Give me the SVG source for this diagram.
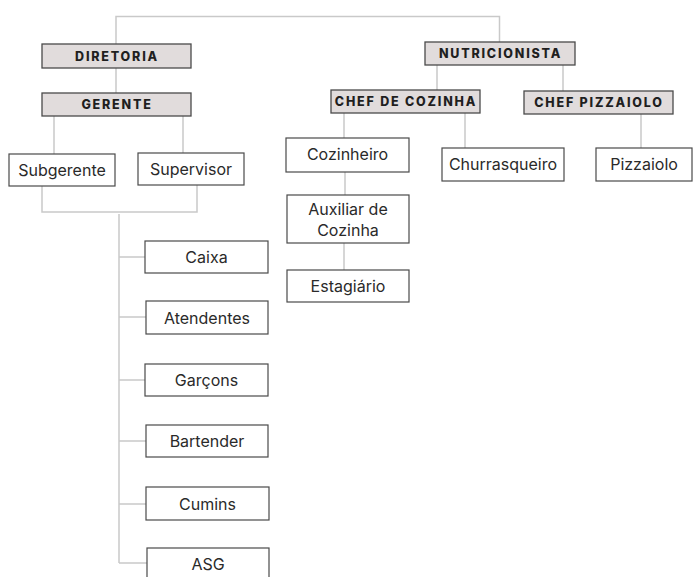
<svg xmlns="http://www.w3.org/2000/svg" width="693" height="577" viewBox="0 0 693 577">
<style>
.hd rect{fill:#e1dcdc;stroke:#4a4a4a;stroke-width:1.3}
.hd text{font-family:Inter,"Liberation Sans",sans-serif;font-weight:800;font-size:12.5px;letter-spacing:1.8px;fill:#1f1f1f;text-anchor:middle;dominant-baseline:central}
.nd rect{fill:#fff;stroke:#4a4a4a;stroke-width:1.2}
.nd text{font-family:Inter,"Liberation Sans",sans-serif;font-size:16px;fill:#2a2a2a;text-anchor:middle;dominant-baseline:central}
#connectors path{fill:none;stroke:#c9c9c9;stroke-width:1.5}
</style>
<rect width="693" height="577" fill="#fff"/>
<g id="connectors">
<path d="M116 44V16.5H499.5V42"/>
<path d="M116 68V93"/>
<path d="M54 116V154M183 116V153"/>
<path d="M42 186V212H197V185"/>
<path d="M119 214V563"/>
<path d="M119 257H145M119 317H146M119 380H145M119 441H146M119 504H146M119 563H147"/>
<path d="M437 65V90M563 65V91"/>
<path d="M344 113V138M465 113V148M641 114V148"/>
<path d="M345 172V195M344 243V270"/>
</g>
<g id="diretoria" class="hd"><rect x="42" y="44" width="149" height="24"/><text x="117" y="56">DIRETORIA</text></g>
<g id="gerente" class="hd"><rect x="42" y="93" width="149" height="23"/><text x="117" y="104.5">GERENTE</text></g>
<g id="subgerente" class="nd"><rect x="9" y="154" width="106" height="32"/><text x="62" y="170">Subgerente</text></g>
<g id="supervisor" class="nd"><rect x="138" y="153" width="106" height="32"/><text x="191" y="169">Supervisor</text></g>
<g id="caixa" class="nd"><rect x="145" y="241" width="123" height="32"/><text x="206.5" y="257">Caixa</text></g>
<g id="atendentes" class="nd"><rect x="146" y="301" width="122" height="33"/><text x="207" y="317.5">Atendentes</text></g>
<g id="garcons" class="nd"><rect x="145" y="364" width="123" height="32"/><text x="206.5" y="380">Garçons</text></g>
<g id="bartender" class="nd"><rect x="146" y="425" width="122" height="32"/><text x="207" y="441">Bartender</text></g>
<g id="cumins" class="nd"><rect x="146" y="487" width="123" height="33"/><text x="207.5" y="503.5">Cumins</text></g>
<g id="asg" class="nd"><rect x="147" y="548" width="122" height="34"/><text x="208" y="564">ASG</text></g>
<g id="nutricionista" class="hd"><rect x="425" y="42" width="150" height="23"/><text x="500.5" y="53.5">NUTRICIONISTA</text></g>
<g id="chef-cozinha" class="hd"><rect x="331" y="90" width="149" height="23"/><text x="406" y="101.5">CHEF DE COZINHA</text></g>
<g id="chef-pizzaiolo" class="hd"><rect x="524" y="91" width="149" height="23"/><text x="599" y="102.5">CHEF PIZZAIOLO</text></g>
<g id="cozinheiro" class="nd"><rect x="286" y="138" width="123" height="34"/><text x="347.5" y="154">Cozinheiro</text></g>
<g id="churrasqueiro" class="nd"><rect x="442" y="148" width="122" height="33"/><text x="503" y="164">Churrasqueiro</text></g>
<g id="pizzaiolo" class="nd"><rect x="596" y="148" width="96" height="33"/><text x="644" y="164">Pizzaiolo</text></g>
<g id="auxiliar" class="nd"><rect x="287" y="195" width="122" height="48"/><text x="348" y="209">Auxiliar de</text><text x="348" y="230">Cozinha</text></g>
<g id="estagiario" class="nd"><rect x="287" y="270" width="122" height="32"/><text x="348" y="286">Estagiário</text></g>
</svg>
